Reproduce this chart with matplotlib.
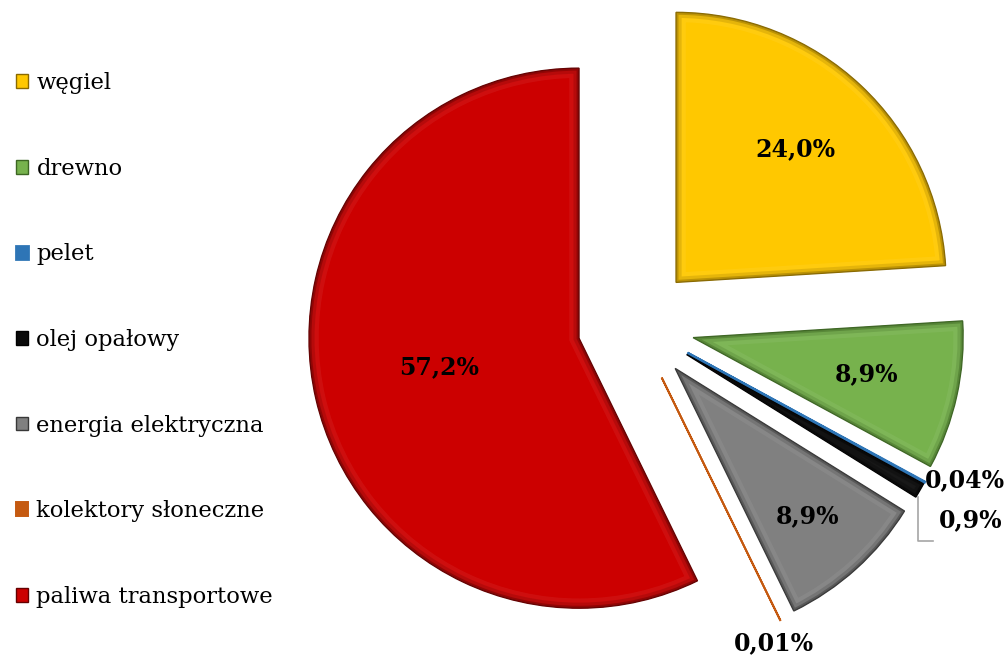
import matplotlib
matplotlib.use('Agg')
import matplotlib.pyplot as plt
import numpy as np
from matplotlib.patches import Wedge

# udział nośników energii
labels = ['węgiel', 'drewno', 'pelet', 'olej opałowy', 'energia elektryczna',
          'kolektory słoneczne', 'paliwa transportowe']
shares = [24.0, 8.9, 0.04, 0.9, 8.9, 0.01, 57.2]
pct_text = ['24,0%', '8,9%', '0,04%', '0,9%', '8,9%', '0,01%', '57,2%']
colors = ['#FFC800', '#77B24D', '#2E75B6', '#0A0A0A', '#808080', '#C55A11', '#CC0000']
rims = ['#8A6A00', '#3D6623', '#163F66', '#000000', '#383838', '#6E3008', '#640000']

plt.rcParams['font.family'] = ['DejaVu Serif']

W, H = 1007, 659
fig = plt.figure(figsize=(W / 100, H / 100), dpi=100)
ax = fig.add_axes([0, 0, 1, 1])

cx, cy = 636, H - 325
R = 270
gap = 58.5

wedges, _ = ax.pie(shares, colors=colors, startangle=90, counterclock=False,
                   radius=R, center=(cx, cy), explode=[gap] * len(shares),
                   wedgeprops=dict(linewidth=1.0))
ax.set_xlim(0, W)
ax.set_ylim(0, H)
ax.set_aspect('equal')
ax.axis('off')

# bevel: soft darker bands along the inside of each wedge edge
for i, (w, rim) in enumerate(zip(wedges, rims)):
    w.set_edgecolor(rim)
    if shares[i] < 0.5:
        w.set_edgecolor(colors[i])
        w.set_linewidth(2.0 if i == 2 else 1.4)
        continue
    for lw, c, a in [(14, 'white', 0.06), (8, rim, 0.22), (3.5, rim, 0.45)]:
        band = Wedge(w.center, w.r, w.theta1, w.theta2, facecolor='none',
                     edgecolor=c, lw=lw, alpha=a)
        ax.add_patch(band)
        band.set_clip_path(w)


def along(w, frac):
    th = np.deg2rad((w.theta1 + w.theta2) / 2)
    return (w.center[0] + frac * w.r * np.cos(th),
            w.center[1] + frac * w.r * np.sin(th))


font = dict(fontsize=17, fontweight='bold', color='black')

inside = {0: 0.66, 1: 0.67, 4: 0.75, 6: 0.52}
for i, frac in inside.items():
    x, y = along(wedges[i], frac)
    ax.text(x - 3, y + 3, pct_text[i], ha='center', va='center', **font)

# small slices get their labels outside
x, y = along(wedges[2], 1.0)
ax.text(x, y + 2, pct_text[2], ha='left', va='center', **font)

x, y = along(wedges[3], 1.0)
ax.plot([x - 2, x - 2, x + 13], [y - 6, y - 50, y - 50], color='#A6A6A6', lw=1.2)
ax.text(x + 19, y - 30, pct_text[3], ha='left', va='center', **font)

x, y = along(wedges[5], 1.0)
ax.text(x - 6, y - 23, pct_text[5], ha='center', va='center', **font)

ax.legend(wedges, labels, loc='center left', bbox_to_anchor=(16 / W, 1 - 340 / H),
          bbox_transform=fig.transFigure, frameon=False, fontsize=16.3,
          handlelength=0.55, handleheight=0.55, handletextpad=0.35,
          labelspacing=2.81, borderpad=0, borderaxespad=0)

fig.savefig('out.png', dpi=100, facecolor='white')
